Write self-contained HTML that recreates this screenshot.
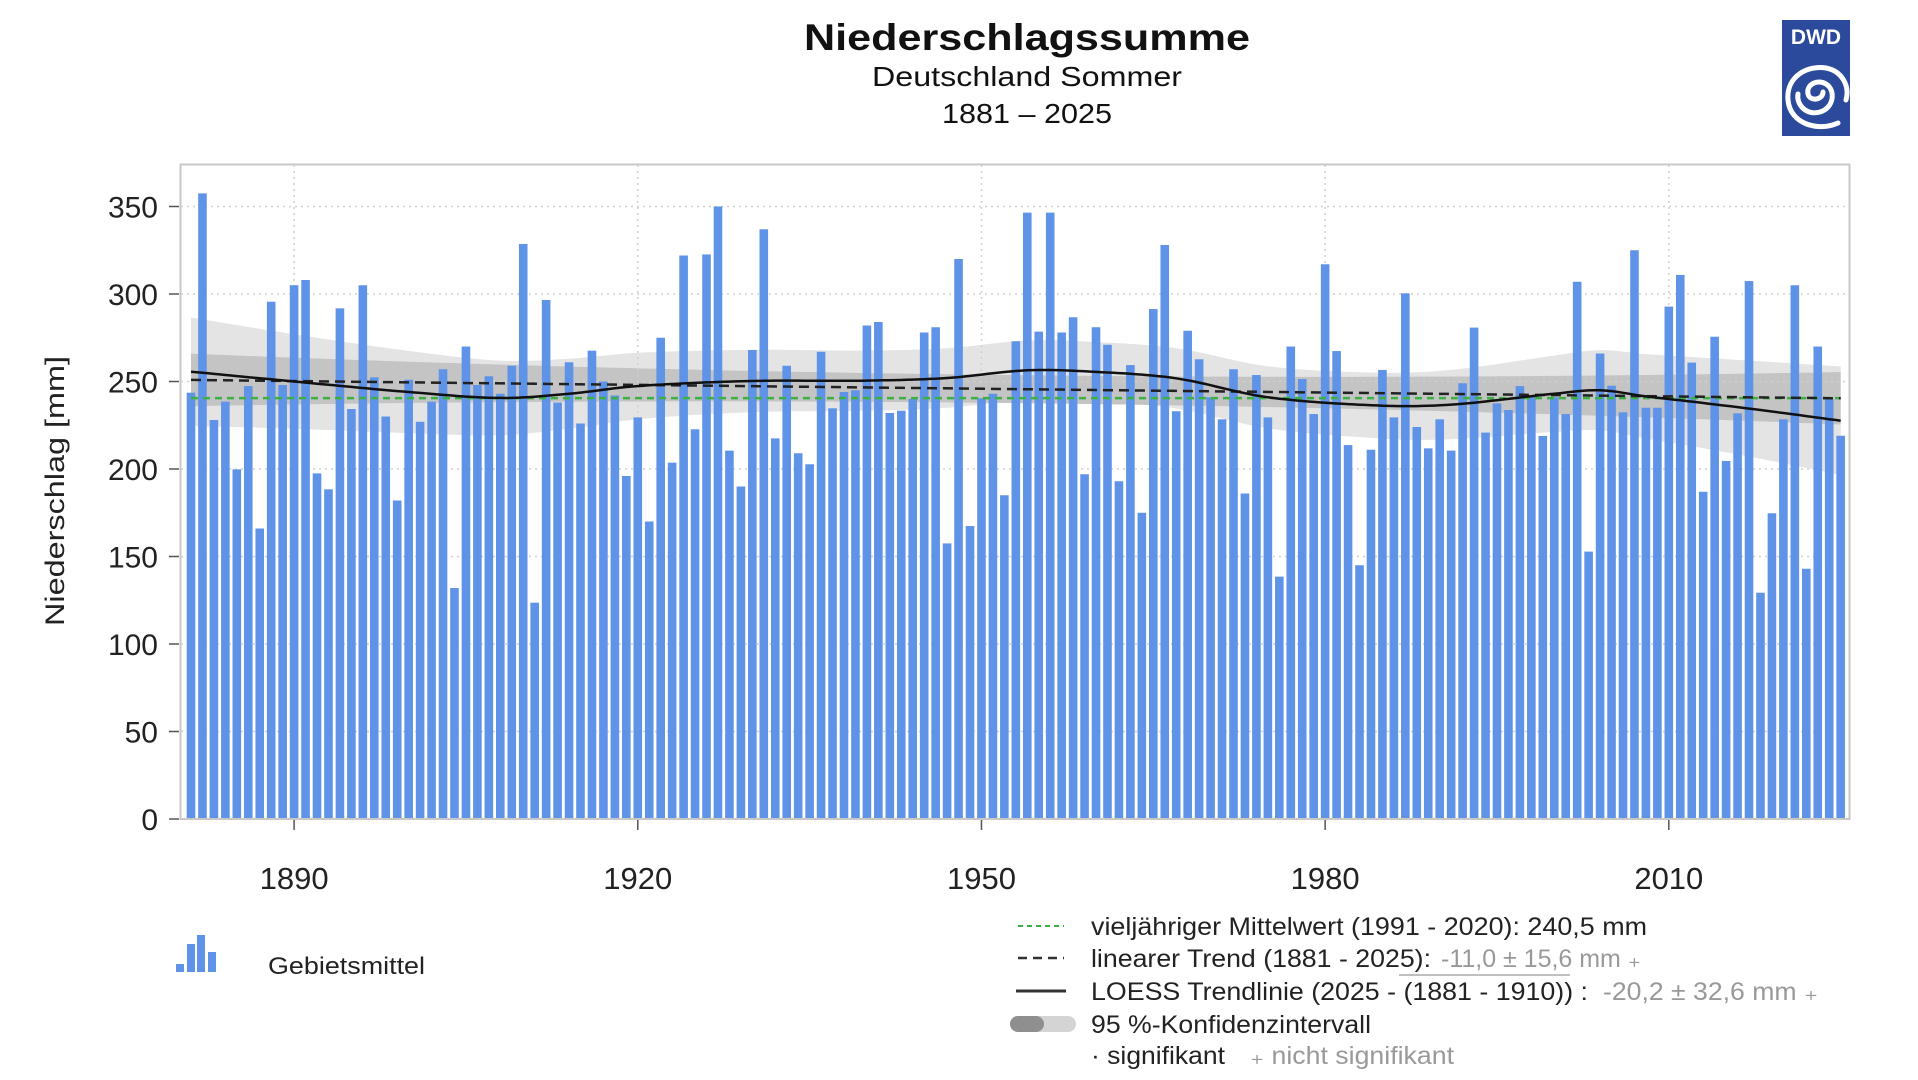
<!DOCTYPE html>
<html><head><meta charset="utf-8"><style>
html,body{margin:0;padding:0;background:#fff;}
svg{display:block;font-family:"Liberation Sans",Arial,sans-serif;}
</style></head><body>
<svg id="c" width="1918" height="1080" viewBox="0 0 1918 1080" xmlns="http://www.w3.org/2000/svg">
<rect width="1918" height="1080" fill="#fff"/>
<g id="bands"></g>
<g id="grid"></g>
<g id="bars"></g>
<g id="lines"></g>
<rect x="180.5" y="164.5" width="1669" height="654.5" fill="none" stroke="#c8c8c8" stroke-width="2"/>
<g id="axes" fill="#222" font-size="30"></g>

<text x="1027" y="50" text-anchor="middle" font-size="37" font-weight="bold" fill="#111" textLength="446" lengthAdjust="spacingAndGlyphs">Niederschlagssumme</text>
<text x="1027" y="86" text-anchor="middle" font-size="28" fill="#111" textLength="310" lengthAdjust="spacingAndGlyphs">Deutschland Sommer</text>
<text x="1027" y="123" text-anchor="middle" font-size="28" fill="#111" textLength="170" lengthAdjust="spacingAndGlyphs">1881 – 2025</text>

<text transform="translate(64,491) rotate(-90)" text-anchor="middle" font-size="27" fill="#222" textLength="270" lengthAdjust="spacingAndGlyphs">Niederschlag [mm]</text>

<!-- logo -->
<rect x="1782" y="20" width="68" height="116" fill="#2b4a9b"/>
<text x="1816" y="44" text-anchor="middle" font-size="21" font-weight="bold" fill="#fff">DWD</text>
<g fill="none" stroke="#fff" stroke-linecap="round">
<path d="M1838 123 C1818 132 1790 124 1788 100 C1786 76 1808 65 1826 68 C1842 71 1850 86 1846 100" stroke-width="5"/>
<path d="M1823 92 C1823 100 1810 102 1808 94 C1806 84 1818 79 1826 84 C1836 90 1834 108 1820 112 C1806 116 1796 104 1798 94" stroke-width="5"/>
</g>

<!-- legend left -->
<rect x="176" y="964" width="8" height="8" fill="#5f93e8"/>
<rect x="187" y="944" width="8" height="28" fill="#5f93e8"/>
<rect x="197" y="935" width="8" height="37" fill="#5f93e8"/>
<rect x="208" y="952" width="8" height="20" fill="#5f93e8"/>
<text x="268" y="984" font-size="24" fill="#222" textLength="157" lengthAdjust="spacingAndGlyphs" transform="translate(0,-10)">Gebietsmittel</text>

<!-- legend right -->
<g transform="translate(-12,-12)">
<line x1="1030" y1="938" x2="1076" y2="938" stroke="#3cb043" stroke-width="2" stroke-dasharray="5,4"/>
<text x="1103" y="947" font-size="25" fill="#222" textLength="556" lengthAdjust="spacingAndGlyphs">vieljähriger Mittelwert (1991 - 2020): 240,5 mm</text>
<line x1="1030" y1="970" x2="1076" y2="970" stroke="#333" stroke-width="2.5" stroke-dasharray="9,6"/>
<text x="1103" y="979" font-size="25" fill="#222" textLength="340" lengthAdjust="spacingAndGlyphs">linearer Trend (1881 - 2025):</text>
<text x="1453" y="979" font-size="25" fill="#999" textLength="200" lengthAdjust="spacingAndGlyphs">-11,0 ± 15,6 mm ₊</text>
<line x1="1411" y1="987" x2="1582" y2="987" stroke="#aaa" stroke-width="1.5"/>
<line x1="1028" y1="1003" x2="1078" y2="1003" stroke="#333" stroke-width="3"/>
<text x="1103" y="1012" font-size="25" fill="#222" textLength="497" lengthAdjust="spacingAndGlyphs">LOESS Trendlinie (2025 - (1881 - 1910)) :</text>
<text x="1615" y="1012" font-size="25" fill="#999" textLength="215" lengthAdjust="spacingAndGlyphs">-20,2 ± 32,6 mm ₊</text>
<rect x="1022" y="1028" width="66" height="16" rx="8" fill="#d4d4d4"/>
<rect x="1022" y="1028" width="34" height="16" rx="8" fill="#8f8f8f"/>
<text x="1103" y="1045" font-size="25" fill="#222" textLength="280" lengthAdjust="spacingAndGlyphs">95 %-Konfidenzintervall</text>
<text x="1103" y="1076" font-size="25" fill="#222" textLength="134" lengthAdjust="spacingAndGlyphs">· signifikant</text>
<text x="1262" y="1076" font-size="25" fill="#999" textLength="204" lengthAdjust="spacingAndGlyphs">₊ nicht signifikant</text>
</g>
</svg>
<script>
var NS="http://www.w3.org/2000/svg";
function el(p,t,a){var e=document.createElementNS(NS,t);for(var k in a)e.setAttribute(k,a[k]);p.appendChild(e);return e;}
var vals=[243.6,357.5,228,238.5,199.8,247.4,166,295.6,248,305,308,197.5,188.4,291.8,234.3,305,252.4,230,182,251,227,238.5,257,132,270,248,253,
243,259,328.6,123.6,296.6,238,261,226,267.6,250,242,196,229.5,170,275,203.6,322,222.7,322.6,350,210.5,190,268,337,217.5,259,209,202.7,267,234.7,244,245,282,284,232,
233.3,240,278,281,157.5,320,167.4,240.4,243,185,273,346.5,278.5,346.5,278,286.7,197,281,271,193,259.4,175,291.4,328,233,
279,262.7,241,228.4,257,186,253.7,229.5,138.5,270,251.4,231.4,317,267.4,213.7,145,211,256.6,229.5,300.4,224,211.8,228.4,
210.5,249,280.8,220.8,237.5,233.7,247.4,241.3,218.9,241,231.4,307,152.8,266,247.6,232.4,325,235,235,292.8,310.9,260.8,187,275.6,204.6,231.8,307.4,129.3,174.7,228.4,305,143,270,240,219];
function X(y){return 191+(y-1881)*11.456;}
function Y(v){return 819-1.75*v;}
function interp(pts,t){for(var i=0;i<pts.length-1;i++){if(t<=pts[i+1][0]){var p0=pts[Math.max(0,i-1)],p1=pts[i],p2=pts[i+1],p3=pts[Math.min(pts.length-1,i+2)];var s=(t-p1[0])/(p2[0]-p1[0]);var m1=(p2[1]-p0[1])/(p2[0]-p0[0])*(p2[0]-p1[0]);var m2=(p3[1]-p1[1])/(p3[0]-p1[0])*(p2[0]-p1[0]);var s2=s*s,s3=s2*s;return (2*s3-3*s2+1)*p1[1]+(s3-2*s2+s)*m1+(-2*s3+3*s2)*p2[1]+(s3-s2)*m2;}}return pts[pts.length-1][1];}
var loess=[[1881,255.6],[1890,250],[1900,244],[1908,240.6],[1914,243],[1920,247.4],[1930,250.3],[1940,250.5],[1947,252],[1954,256.4],[1960,255.5],[1967,251.8],[1975,241],[1985,236.2],[1991,236.8],[2000,243],[2004,245],[2008,241.5],[2012,238.5],[2018,233.7],[2025,227.6]];
function lin(t){return 250.9+(240.4-250.9)*(t-1881)/144;}
function wd(t){var u=(t-1953)/72;return 8+7*u*u;}
function wl(t){var u=(t-1953)/72;return 17+14*Math.pow(Math.abs(u),2.5);}
function band(fc,fw,col){var up=[],dn=[];for(var t=1881;t<=2025.001;t+=0.5){up.push(X(t)+','+Y(fc(t)+fw(t)));dn.unshift(X(t)+','+Y(fc(t)-fw(t)));}
el(document.getElementById('bands'),'polygon',{points:up.concat(dn).join(' '),fill:col});}
band(function(t){return interp(loess,t);},wl,'#e4e4e4');
band(lin,wd,'#c4c4c4');
var g=document.getElementById('grid');
for(var v=50;v<=350;v+=50)el(g,'line',{x1:181,x2:1849,y1:Y(v),y2:Y(v),stroke:'#d0d0d0','stroke-width':1.5,'stroke-dasharray':'2,4'});
for(var yr=1890;yr<=2010;yr+=30)el(g,'line',{x1:X(yr),x2:X(yr),y1:165,y2:818,stroke:'#d0d0d0','stroke-width':1.5,'stroke-dasharray':'2,4'});
var b=document.getElementById('bars');
for(var i=0;i<vals.length;i++){var x=X(1881+i);el(b,'rect',{x:x-4.3,y:Y(vals[i]),width:8.6,height:819-Y(vals[i]),fill:'#5f93e8'});}
var L=document.getElementById('lines');
el(L,'line',{x1:X(1881),x2:X(2025),y1:Y(240.5),y2:Y(240.5),stroke:'#3cb043','stroke-width':2.5,'stroke-dasharray':'7,5'});
el(L,'line',{x1:X(1881),x2:X(2025),y1:Y(lin(1881)),y2:Y(lin(2025)),stroke:'#222','stroke-width':2.5,'stroke-dasharray':'10,6'});
var pts=[];for(var t=1881;t<=2025.001;t+=0.5)pts.push(X(t).toFixed(1)+','+Y(interp(loess,t)).toFixed(1));
el(L,'polyline',{points:pts.join(' '),fill:'none',stroke:'#111','stroke-width':2.5});
var A=document.getElementById('axes');
for(var v=0;v<=350;v+=50){el(A,'line',{x1:169,x2:179,y1:Y(v),y2:Y(v),stroke:'#555','stroke-width':1.5});var tx=el(A,'text',{x:158,y:Y(v)+11,'text-anchor':'end'});tx.textContent=v;}
for(var yr=1890;yr<=2010;yr+=30){el(A,'line',{x1:X(yr),x2:X(yr),y1:820,y2:830,stroke:'#555','stroke-width':1.5});var tx=el(A,'text',{x:X(yr),y:889,'text-anchor':'middle','font-size':31});tx.textContent=yr;}
</script>
</body></html>
